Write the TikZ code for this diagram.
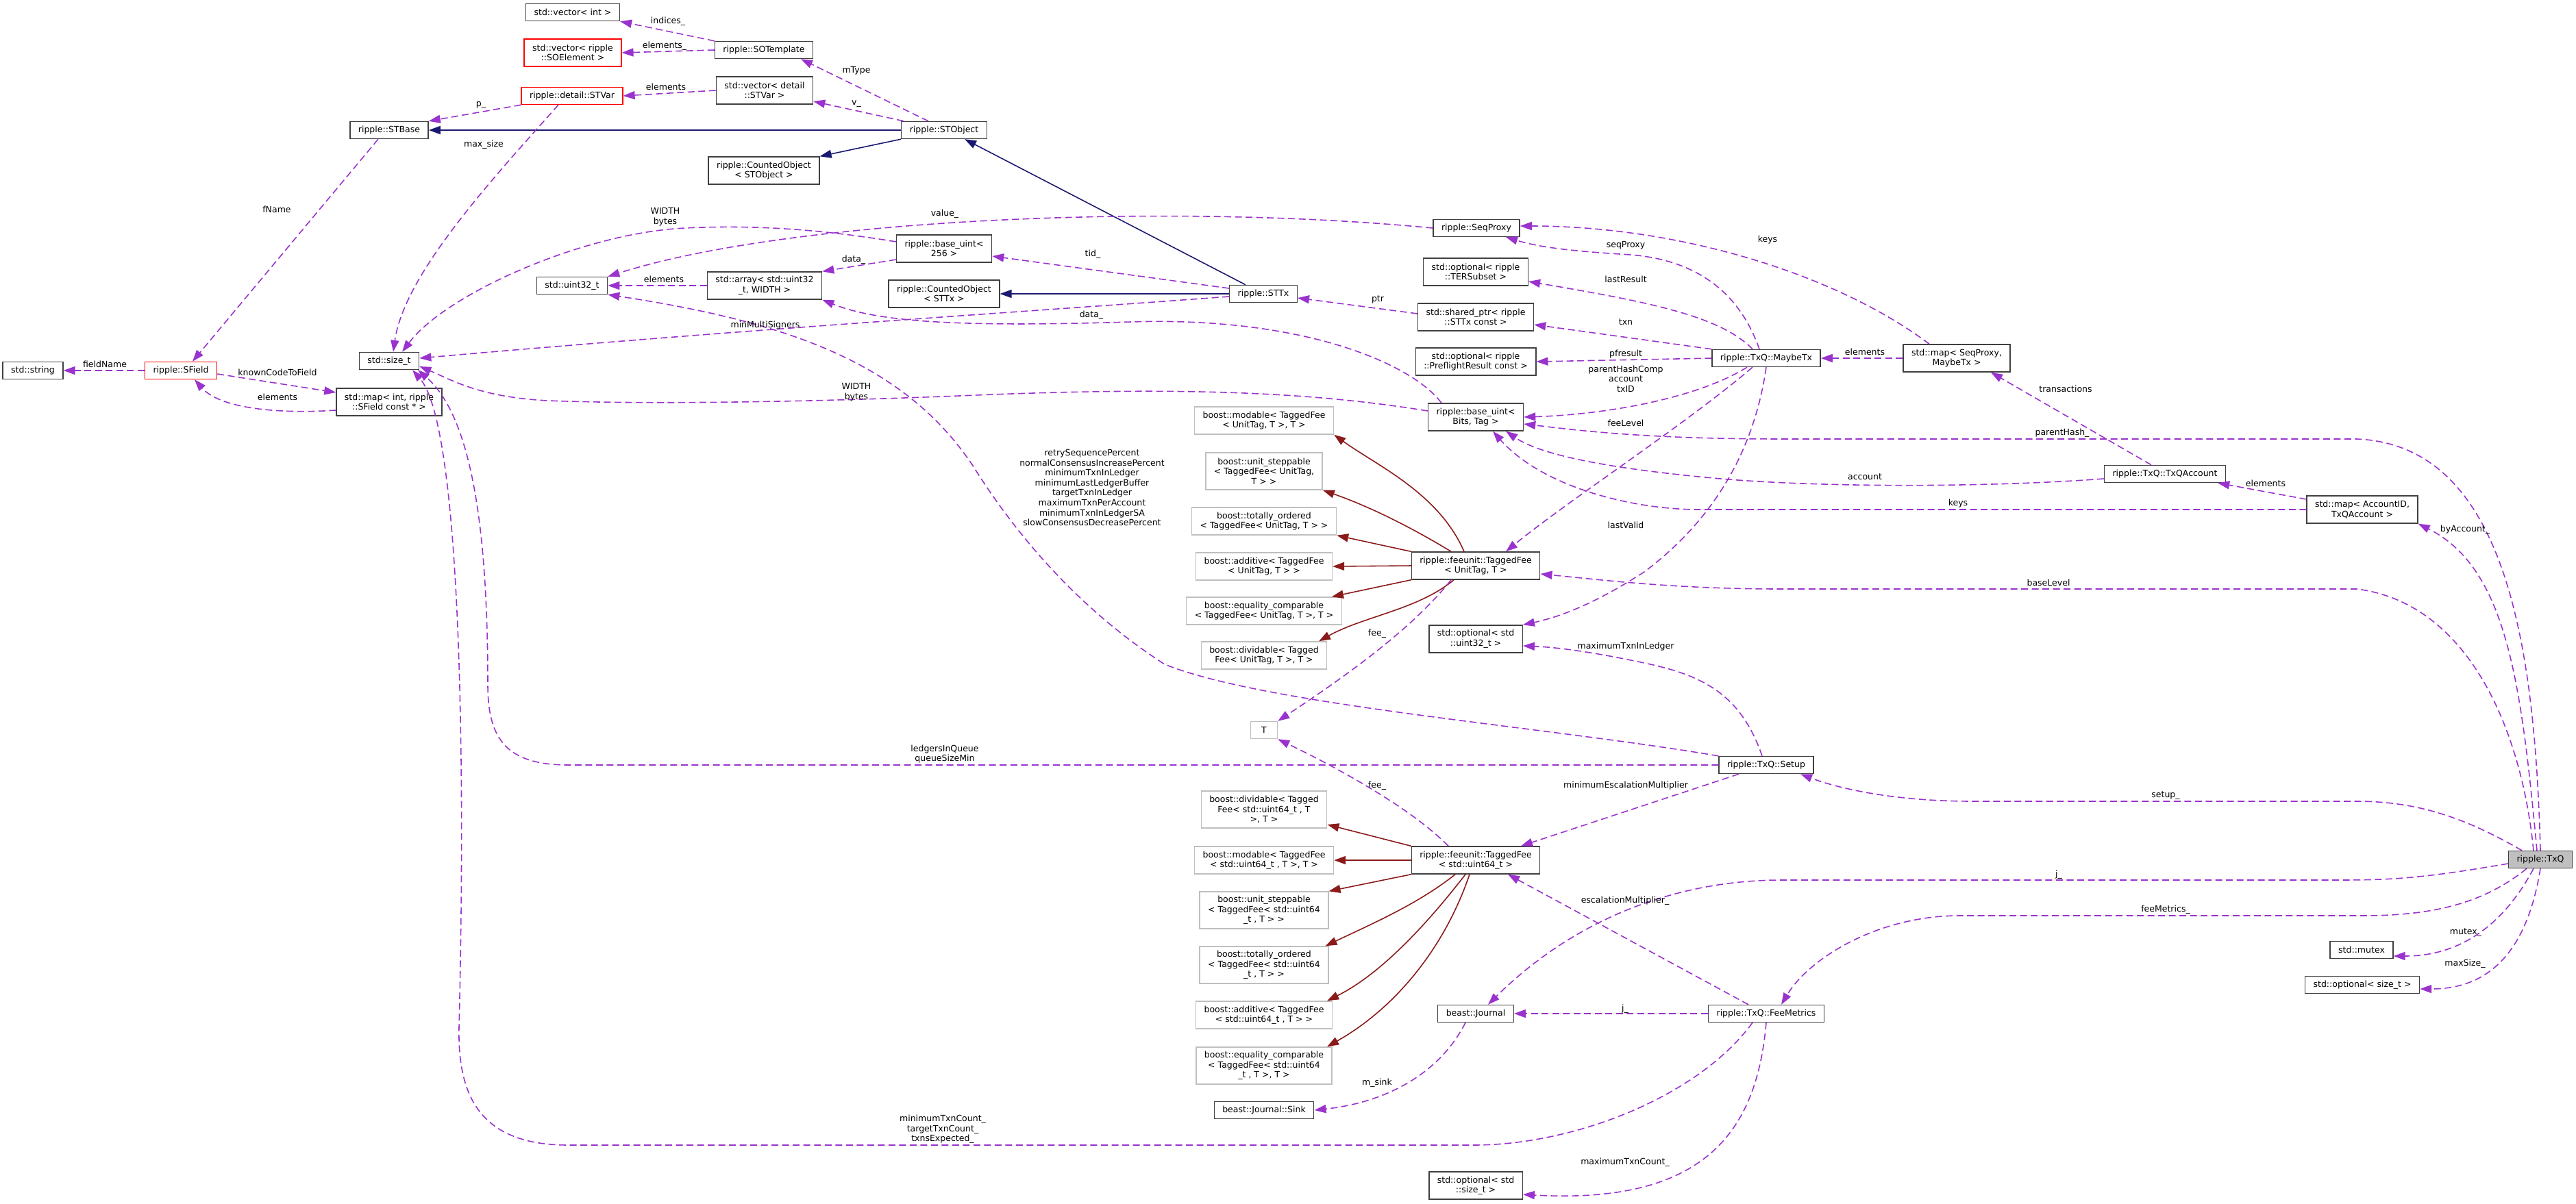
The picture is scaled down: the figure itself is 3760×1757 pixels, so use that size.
\documentclass[tikz,border=0pt]{standalone}
\usepackage{fontspec}
\setmainfont{DejaVu Sans}
\usetikzlibrary{arrows.meta}
\definecolor{usecol}{HTML}{9A32CD}
\definecolor{pubcol}{HTML}{191970}
\definecolor{privcol}{HTML}{8B1A1A}
\definecolor{extcol}{HTML}{BFBFBF}
\newcommand{\dxfont}{\fontsize{3.56pt}{4.15pt}\selectfont}

\begin{document}
\begin{tikzpicture}[x=0.01cm,y=-0.01cm,
    cls/.style={draw=black!75,fill=white,line width=0.4pt,inner xsep=0.12cm,inner ysep=0pt,minimum height=0.25cm,align=center,font=\dxfont},
    trunc/.style={cls,draw=red},
    ext/.style={cls,draw=extcol},
    main/.style={cls,fill=extcol},
    two/.style={minimum height=0.40cm},
    three/.style={minimum height=0.54cm},
    lbl/.style={inner sep=0pt,align=center,font=\dxfont},
    usage/.style={draw=usecol,line width=0.45pt,dash pattern=on 1mm off 0.55mm,-{Triangle[length=1.7mm,width=1.2mm]}},
    pubinh/.style={draw=pubcol,line width=0.45pt,-{Triangle[length=1.7mm,width=1.2mm]}},
    privinh/.style={draw=privcol,line width=0.45pt,-{Triangle[length=1.7mm,width=1.2mm]}}]
  \useasboundingbox (0,0) rectangle (3760,1757);

  \node[cls] (vecint) at (836,18) {std::vector< int >};
  \node[trunc,two] (vecsoelem) at (836,77) {std::vector< ripple\\::SOElement >};
  \node[trunc] (stvar) at (835,140) {ripple::detail::STVar};
  \node[cls] (stbase) at (568,190) {ripple::STBase};
  \node[cls] (string) at (48,541) {std::string};
  \node[trunc] (sfield) at (264,541) {ripple::SField};
  \node[cls] (sizet) at (568,527) {std::size\_t};
  \node[cls] (uint32) at (835,417) {std::uint32\_t};
  \node[cls,two] (mapint) at (568,587) {std::map< int, ripple\\::SField const * >};
  \node[cls] (sotemplate) at (1115,73) {ripple::SOTemplate};
  \node[cls,two] (vecstvar) at (1116,132) {std::vector< detail\\::STVar >};
  \node[cls] (stobject) at (1378,190) {ripple::STObject};
  \node[cls,two] (cntobj) at (1115,249) {ripple::CountedObject\\< STObject >};
  \node[cls,two] (baseuint256) at (1378,363) {ripple::base\_uint<\\256 >};
  \node[cls,two] (array) at (1116,417) {std::array< std::uint32\\\_t, WIDTH >};
  \node[cls,two] (cnttx) at (1378,429) {ripple::CountedObject\\< STTx >};
  \node[cls] (sttx) at (1844,429) {ripple::STTx};

  \node[ext,two] (modable1) at (1845,614) {boost::modable< TaggedFee\\< UnitTag, T >, T >};
  \node[ext,three] (unitstep1) at (1845,688) {boost::unit\_steppable\\< TaggedFee< UnitTag,\\T > >};
  \node[ext,two] (totord1) at (1845,761) {boost::totally\_ordered\\< TaggedFee< UnitTag, T > >};
  \node[ext,two] (additive1) at (1845,827) {boost::additive< TaggedFee\\< UnitTag, T > >};
  \node[ext,two] (eqcomp1) at (1845,892) {boost::equality\_comparable\\< TaggedFee< UnitTag, T >, T >};
  \node[ext,two] (divid1) at (1845,957) {boost::dividable< Tagged\\Fee< UnitTag, T >, T >};
  \node[ext,minimum width=0.39cm] (tparam) at (1845,1066) {T};
  \node[ext,three] (divid2) at (1845,1182) {boost::dividable< Tagged\\Fee< std::uint64\_t , T\\>, T >};
  \node[ext,two] (modable2) at (1845,1256) {boost::modable< TaggedFee\\< std::uint64\_t , T >, T >};
  \node[ext,three] (unitstep2) at (1845,1329) {boost::unit\_steppable\\< TaggedFee< std::uint64\\\_t , T > >};
  \node[ext,three] (totord2) at (1845,1409) {boost::totally\_ordered\\< TaggedFee< std::uint64\\\_t , T > >};
  \node[ext,two] (additive2) at (1845,1482) {boost::additive< TaggedFee\\< std::uint64\_t , T > >};
  \node[ext,three] (eqcomp2) at (1845,1556) {boost::equality\_comparable\\< TaggedFee< std::uint64\\\_t , T >, T >};
  \node[cls] (sink) at (1845,1621) {beast::Journal::Sink};

  \node[cls] (seqproxy) at (2155,333) {ripple::SeqProxy};
  \node[cls,two] (optter) at (2154,397) {std::optional< ripple\\::TERSubset >};
  \node[cls,two] (sharedptr) at (2154,463) {std::shared\_ptr< ripple\\::STTx const >};
  \node[cls,two] (optpre) at (2154,528) {std::optional< ripple\\::PreflightResult const >};
  \node[cls,two] (baseuint) at (2154,609) {ripple::base\_uint<\\Bits, Tag >};
  \node[cls,two] (taggedfee) at (2154,826) {ripple::feeunit::TaggedFee\\< UnitTag, T >};
  \node[cls,two] (optu32) at (2154,933) {std::optional< std\\::uint32\_t >};
  \node[cls,two] (taggedfee64) at (2154,1256) {ripple::feeunit::TaggedFee\\< std::uint64\_t >};
  \node[cls] (journal) at (2154,1480) {beast::Journal};
  \node[cls,two] (optsz) at (2154,1731) {std::optional< std\\::size\_t >};

  \node[cls] (maybetx) at (2578,523) {ripple::TxQ::MaybeTx};
  \node[cls] (setup) at (2578,1117) {ripple::TxQ::Setup};
  \node[cls] (feemetrics) at (2578,1480) {ripple::TxQ::FeeMetrics};
  \node[cls,two] (mapseq) at (2856,523) {std::map< SeqProxy,\\MaybeTx >};
  \node[cls] (txqaccount) at (3160,692) {ripple::TxQ::TxQAccount};
  \node[cls,two] (mapacct) at (3448,744) {std::map< AccountID,\\TxQAccount >};
  \node[main] (txq) at (3708,1255) {ripple::TxQ};
  \node[cls] (mutex) at (3447,1387) {std::mutex};
  \node[cls] (optsizet) at (3448,1438) {std::optional< size\_t >};

  \draw[pubinh] (stobject.west) -- (stbase.east);
  \draw[pubinh] (stobject.south west) -- (cntobj.north east);
  \draw[pubinh] ([xshift=-0.26cm]sttx.north) -- ([xshift=0.3cm]stobject.south);
  \draw[pubinh] (sttx.west) -- (cnttx.east);

  \draw[privinh] ([xshift=-0.17cm]taggedfee.north) .. controls (2100,720) and (2010,680) .. (modable1.south east);
  \draw[privinh] ([xshift=-0.36cm]taggedfee.north) .. controls (2060,770) and (2000,740) .. (unitstep1.south east);
  \draw[privinh] (taggedfee.north west) -- (totord1.south east);
  \draw[privinh] (taggedfee.west) -- (additive1.east);
  \draw[privinh] (taggedfee.south west) -- ([xshift=-0.15cm]eqcomp1.north east);
  \draw[privinh] ([xshift=-0.32cm]taggedfee.south) .. controls (2070,890) and (1990,900) .. ([xshift=0.8cm]divid1.north);
  \draw[privinh] (taggedfee64.north west) -- ([yshift=-0.22cm]divid2.east);
  \draw[privinh] (taggedfee64.west) -- (modable2.east);
  \draw[privinh] (taggedfee64.south west) -- (unitstep2.north east);
  \draw[privinh] ([xshift=-0.3cm]taggedfee64.south) .. controls (2070,1320) and (2000,1350) .. ([xshift=-0.05cm]totord2.north east);
  \draw[privinh] ([xshift=-0.15cm]taggedfee64.south) .. controls (2090,1340) and (2020,1420) .. ([xshift=0.92cm]additive2.north);
  \draw[privinh] ([xshift=-0.09cm]taggedfee64.south) .. controls (2110,1380) and (2040,1470) .. ([xshift=0.92cm]eqcomp2.north);

  \draw[usage] (sotemplate.north west) -- (vecint.south east);
  \draw[usage] (sotemplate.west) -- (vecsoelem.east);
  \draw[usage] (vecstvar.west) -- (stvar.east);
  \draw[usage] (stvar.south west) -- (stbase.north east);
  \draw[usage] ([xshift=-0.16cm]stbase.south) -- ([xshift=0.17cm]sfield.north);
  \draw[usage] ([xshift=-0.2cm]stvar.south) .. controls (720,260) and (590,400) .. ([xshift=0.06cm]sizet.north);
  \draw[usage] ([yshift=0.1cm]baseuint256.west) .. controls (1200,335) and (1100,328) .. (1000,333) .. controls (850,340) and (650,430) .. ([xshift=0.19cm]sizet.north);
  \draw[usage] (seqproxy.west) .. controls (1700,295) and (1150,320) .. (uint32.north east);
  \draw[usage] ([xshift=-0.23cm]stobject.north) -- ([xshift=0.54cm]sotemplate.south);
  \draw[usage] ([xshift=-0.59cm]stobject.north) -- ([yshift=-0.16cm]vecstvar.east);
  \draw[usage] ([yshift=0.08cm]sttx.west) -- ([yshift=-0.11cm]baseuint256.east);
  \draw[usage] ([yshift=-0.16cm]baseuint256.west) -- (array.north east);
  \draw[usage] (array.west) -- (uint32.east);
  \draw[usage] ([yshift=-0.04cm]sttx.west) .. controls (1500,455) and (1100,480) .. ([yshift=0.04cm]sizet.east);
  \draw[usage] ([xshift=-0.5cm]baseuint.north) .. controls (2060,530) and (1900,462) .. (1650,470) .. controls (1400,478) and (1280,470) .. (array.south east);
  \draw[usage] (setup.north west) .. controls (2250,1060) and (1850,1030) .. (1700,970) .. controls (1560,880) and (1470,760) .. (1420,680) .. controls (1320,530) and (1150,470) .. (uint32.south east);
  \draw[usage] ([yshift=0.09cm]baseuint.west) .. controls (1900,570) and (1700,565) .. (1400,578) .. controls (1100,590) and (900,589) .. (800,585) .. controls (700,580) and (660,555) .. ([yshift=-0.08cm]sizet.east);
  \draw[usage] ([yshift=-0.05cm]sfield.east) -- ([yshift=0.14cm]mapint.west);
  \draw[usage] ([yshift=-0.12cm]mapint.west) .. controls (400,605) and (320,595) .. ([xshift=0.2cm]sfield.south);
  \draw[usage] (sfield.west) -- (string.east);

  \draw[usage] ([xshift=-0.1cm]maybetx.north) .. controls (2540,430) and (2480,380) .. (2380,372) .. controls (2300,367) and (2250,362) .. ([xshift=0.43cm]seqproxy.south);
  \draw[usage] ([xshift=-0.2cm]maybetx.north) .. controls (2510,460) and (2400,440) .. ([yshift=-0.14cm]optter.east);
  \draw[usage] (maybetx.north west) -- ([yshift=-0.11cm]sharedptr.east);
  \draw[usage] (maybetx.west) -- (optpre.east);
  \draw[usage] ([xshift=-0.28cm]maybetx.south) .. controls (2480,580) and (2350,605) .. (baseuint.east);
  \draw[usage] (mapseq.west) -- (maybetx.east);
  \draw[usage] ([xshift=-0.4cm]mapseq.north) .. controls (2680,400) and (2450,330) .. ([yshift=0.03cm]seqproxy.east);
  \draw[usage] ([yshift=0.05cm]sharedptr.west) -- ([yshift=-0.06cm]sttx.east);
  \draw[usage] ([xshift=-0.2cm]txqaccount.north) -- ([xshift=0.5cm]mapseq.south);
  \draw[usage] (txq.north) .. controls (3700,950) and (3660,650) .. (3440,641) -- (2600,641) .. controls (2400,641) and (2300,628) .. ([yshift=-0.1cm]baseuint.east);
  \draw[usage] ([xshift=-0.2cm]maybetx.south) .. controls (2460,620) and (2290,730) .. ([xshift=0.44cm]taggedfee.north);
  \draw[usage] (maybetx.south) .. controls (2560,660) and (2500,760) .. (2400,835) .. controls (2330,880) and (2280,900) .. (optu32.north east);
  \draw[usage] ([yshift=-0.07cm]txqaccount.west) .. controls (2900,712) and (2650,712) .. (2500,698) .. controls (2350,684) and (2250,665) .. ([xshift=0.44cm]baseuint.south);
  \draw[usage] ([yshift=0.15cm]mapacct.west) -- ([xshift=-0.12cm]txqaccount.south east);
  \draw[usage] (mapacct.west) -- (2480,744) .. controls (2380,744) and (2250,710) .. ([xshift=0.25cm]baseuint.south);
  \draw[usage] ([xshift=-0.05cm]txq.north) .. controls (3680,1000) and (3660,830) .. (mapacct.south east);
  \draw[usage] ([xshift=-0.1cm]txq.north) .. controls (3680,1060) and (3600,880) .. (3440,860) -- (2600,860) .. controls (2450,860) and (2350,848) .. ([yshift=-0.12cm]taggedfee.east);
  \draw[usage] ([xshift=-0.27cm]txq.north) .. controls (3600,1195) and (3530,1170) .. (3440,1170) -- (2880,1170) .. controls (2760,1170) and (2680,1150) .. ([xshift=0.5cm]setup.south);
  \draw[usage] ([yshift=-0.06cm]txq.west) .. controls (3550,1280) and (3500,1285) .. (3420,1285) -- (2600,1285) .. controls (2450,1285) and (2300,1340) .. ([xshift=0.18cm]journal.north);
  \draw[usage] ([xshift=-0.2cm]txq.south) .. controls (3630,1315) and (3560,1337) .. (3450,1337) -- (2860,1337) .. controls (2740,1337) and (2640,1400) .. ([xshift=0.22cm]feemetrics.north);
  \draw[usage] ([xshift=-0.1cm]txq.south) .. controls (3660,1340) and (3600,1396) .. ([yshift=-0.09cm]mutex.east);
  \draw[usage] (txq.south) .. controls (3690,1380) and (3640,1444) .. ([yshift=-0.06cm]optsizet.east);
  \draw[usage] ([xshift=-0.06cm]setup.north) .. controls (2540,1010) and (2480,985) .. (2400,968) .. controls (2320,951) and (2270,945) .. ([yshift=-0.1cm]optu32.east);
  \draw[usage] (setup.west) -- (830,1117) .. controls (740,1117) and (712,1080) .. (712,1000) .. controls (712,780) and (690,610) .. ([xshift=0.42cm]sizet.south);
  \draw[usage] ([xshift=-0.4cm]setup.south) -- ([xshift=0.66cm]taggedfee64.north);
  \draw[usage] ([xshift=-0.26cm]feemetrics.north) -- ([xshift=0.47cm]taggedfee64.south);
  \draw[usage] (feemetrics.west) -- (journal.east);
  \draw[usage] ([xshift=-0.2cm]feemetrics.south) .. controls (2480,1600) and (2300,1672) .. (2150,1672) -- (830,1672) .. controls (700,1672) and (668,1600) .. (670,1500) .. controls (680,1100) and (672,620) .. ([xshift=0.34cm]sizet.south);
  \draw[usage] (feemetrics.south) .. controls (2565,1640) and (2500,1760) .. ([yshift=-0.13cm]optsz.east);
  \draw[usage] ([xshift=-0.15cm]journal.south) .. controls (2100,1570) and (2020,1610) .. (sink.east);
  \draw[usage] ([xshift=-0.36cm]taggedfee.south) .. controls (2060,920) and (1960,990) .. (tparam.north east);
  \draw[usage] ([xshift=-0.4cm]taggedfee64.north) .. controls (2060,1180) and (1950,1120) .. (tparam.south east);

  \node[lbl] (l-indices) at (975,31) {indices\_};
  \node[lbl] (l-elem1) at (970,67) {elements\_};
  \node[lbl] (l-elem2) at (972,127) {elements};
  \node[lbl] (l-p) at (702,153) {p\_};
  \node[lbl] (l-maxsize) at (706,211) {max\_size};
  \node[lbl] (l-fname) at (404,306) {fName};
  \node[lbl] (l-width1) at (971,317) {WIDTH\\bytes};
  \node[lbl] (l-elem3) at (969,408) {elements};
  \node[lbl] (l-fieldname) at (153,532) {fieldName};
  \node[lbl] (l-known) at (405,544) {knownCodeToField};
  \node[lbl] (l-elem4) at (405,580) {elements};
  \node[lbl] (l-mtype) at (1250,103) {mType};
  \node[lbl] (l-v) at (1250,152) {v\_};
  \node[lbl] (l-value) at (1379,312) {value\_};
  \node[lbl] (l-data1) at (1246,379) {data\_};
  \node[lbl] (l-tid) at (1595,371) {tid\_};
  \node[lbl] (l-data2) at (1593,460) {data\_};
  \node[lbl] (l-minmulti) at (1117,475) {minMultiSigners};
  \node[lbl] (l-width2) at (1250,573) {WIDTH\\bytes};
  \node[lbl] (l-setupints) at (1594,712) {retrySequencePercent\\normalConsensusIncreasePercent\\minimumTxnInLedger\\minimumLastLedgerBuffer\\targetTxnInLedger\\maximumTxnPerAccount\\minimumTxnInLedgerSA\\slowConsensusDecreasePercent};
  \node[lbl] (l-ledgers) at (1379,1101) {ledgersInQueue\\queueSizeMin};
  \node[lbl] (l-counts) at (1376,1649) {minimumTxnCount\_\\targetTxnCount\_\\txnsExpected\_};
  \node[lbl] (l-keys1) at (2580,350) {keys};
  \node[lbl] (l-seqproxy) at (2373,358) {seqProxy};
  \node[lbl] (l-lastresult) at (2373,408) {lastResult};
  \node[lbl] (l-ptr) at (2011,437) {ptr};
  \node[lbl] (l-txn) at (2373,470) {txn};
  \node[lbl] (l-pfresult) at (2373,517) {pfresult};
  \node[lbl] (l-hashes) at (2373,553) {parentHashComp\\account\\txID};
  \node[lbl] (l-elem5) at (2722,514) {elements};
  \node[lbl] (l-feelevel) at (2373,618) {feeLevel};
  \node[lbl] (l-trans) at (3015,568) {transactions};
  \node[lbl] (l-parenthash) at (3010,632) {parentHash\_};
  \node[lbl] (l-account) at (2722,696) {account};
  \node[lbl] (l-elem6) at (3307,706) {elements};
  \node[lbl] (l-byaccount) at (3598,773) {byAccount\_};
  \node[lbl] (l-keys2) at (2858,735) {keys};
  \node[lbl] (l-lastvalid) at (2373,767) {lastValid};
  \node[lbl] (l-baselevel) at (2990,851) {baseLevel};
  \node[lbl] (l-fee1) at (2010,925) {fee\_};
  \node[lbl] (l-maxinledger) at (2373,944) {maximumTxnInLedger};
  \node[lbl] (l-fee2) at (2010,1147) {fee\_};
  \node[lbl] (l-minesc) at (2373,1147) {minimumEscalationMultiplier};
  \node[lbl] (l-setup) at (3161,1162) {setup\_};
  \node[lbl] (l-j1) at (3005,1277) {j\_};
  \node[lbl] (l-feemetrics) at (3161,1328) {feeMetrics\_};
  \node[lbl] (l-escmult) at (2372,1315) {escalationMultiplier\_};
  \node[lbl] (l-j2) at (2372,1473) {j\_};
  \node[lbl] (l-mutex) at (3599,1362) {mutex\_};
  \node[lbl] (l-maxsize2) at (3598,1407) {maxSize\_};
  \node[lbl] (l-msink) at (2010,1581) {m\_sink};
  \node[lbl] (l-maxcount) at (2372,1697) {maximumTxnCount\_};
\end{tikzpicture}
\end{document}
